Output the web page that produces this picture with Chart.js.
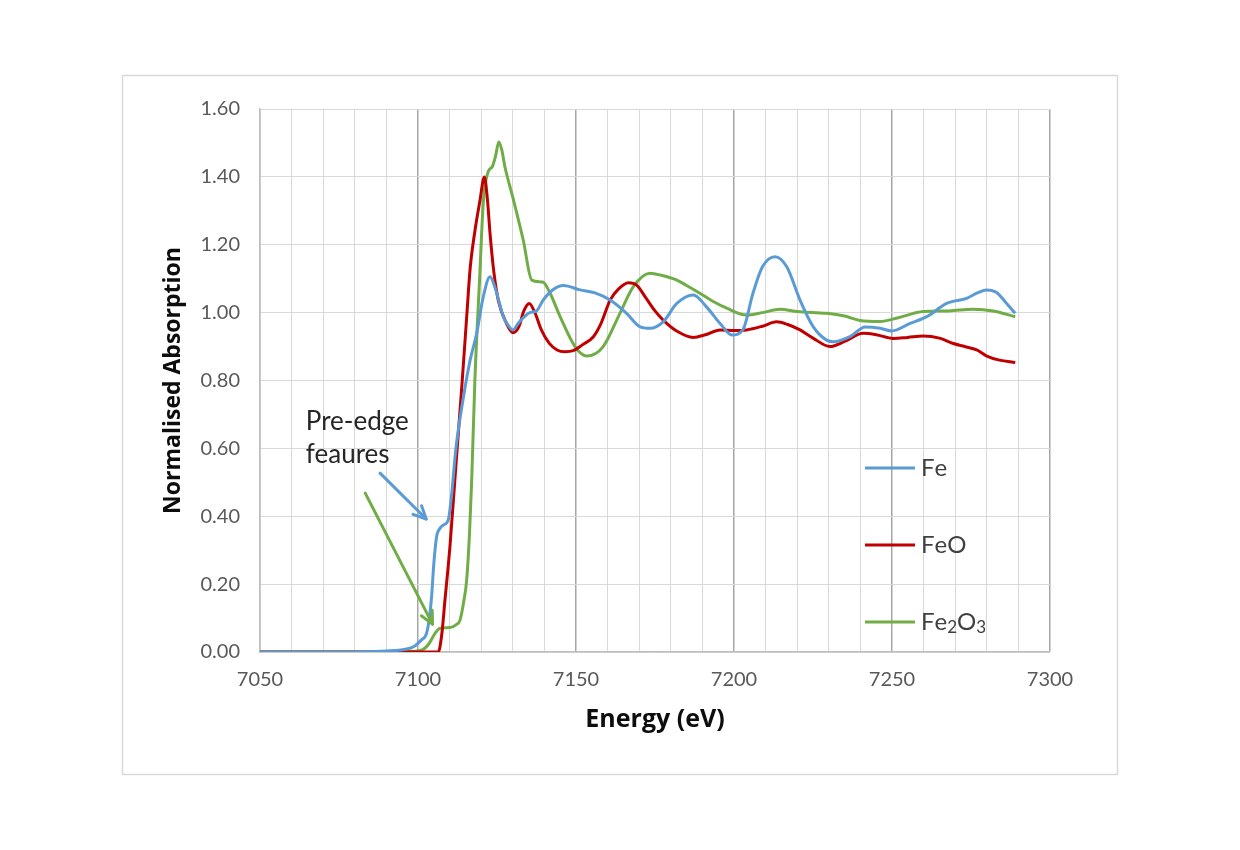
<!DOCTYPE html>
<html>
<head>
<meta charset="utf-8">
<style>
  html, body { margin: 0; padding: 0; background: #ffffff; }
  #wrap { position: relative; width: 1240px; height: 850px; }
</style>
<script src="https://cdn.jsdelivr.net/npm/chart.js@4.4.1/dist/chart.umd.min.js"></script>
</head>
<body>
<div id="wrap"><canvas id="c" width="1240" height="850"></canvas></div>
<script>
// ---------- data ----------
const seriesLabels = ['Fe', 'FeO', 'Fe₂O₃'];
const xTickLabels = [7050, 7100, 7150, 7200, 7250, 7300];
const yTickLabels = ['0.00','0.20','0.40','0.60','0.80','1.00','1.20','1.40','1.60'];

const feEnergy = [7050, 7070, 7090, 7096, 7099, 7101, 7102.7, 7103.6, 7104.3, 7105, 7105.9, 7107, 7108, 7109.6, 7110.6, 7112, 7114.4, 7116.5, 7118.6, 7120.5, 7122.8, 7124.5, 7127, 7128.6, 7130, 7132, 7135.4, 7137.5, 7139.6, 7142.5, 7146, 7151.3, 7156, 7160.8, 7166, 7170.3, 7173.4, 7177.6, 7181.9, 7187.1, 7191.3, 7195.6, 7199.3, 7202.8, 7206, 7209, 7213, 7216.7, 7220.9, 7225.1, 7229.3, 7231.4, 7236.7, 7241.5, 7246.2, 7249.9, 7255.7, 7261, 7267.3, 7273.6, 7277, 7280, 7283, 7286, 7289];
const feValues = [0, 0, 0.003, 0.008, 0.018, 0.035, 0.055, 0.10, 0.163, 0.26, 0.34, 0.365, 0.374, 0.39, 0.46, 0.60, 0.752, 0.86, 0.94, 1.04, 1.106, 1.07, 0.988, 0.962, 0.949, 0.972, 1.0, 1.005, 1.037, 1.066, 1.08, 1.067, 1.058, 1.037, 0.998, 0.958, 0.954, 0.973, 1.027, 1.052, 1.017, 0.968, 0.934, 0.949, 1.057, 1.135, 1.165, 1.135, 1.037, 0.958, 0.919, 0.914, 0.929, 0.958, 0.954, 0.946, 0.968, 0.988, 1.027, 1.042, 1.058, 1.067, 1.06, 1.03, 0.998];

const feoEnergy = [7050, 7075, 7100, 7106.4, 7107.5, 7108.5, 7110.1, 7112, 7114, 7115.5, 7116.5, 7118, 7119.6, 7121, 7122, 7122.8, 7124, 7125.4, 7128, 7130.2, 7132, 7133.5, 7135.2, 7137, 7139, 7141.5, 7144, 7146.5, 7149.1, 7152, 7155.5, 7158, 7160.8, 7163.5, 7166.6, 7169.2, 7172, 7175, 7177.6, 7182, 7187.1, 7191, 7195.6, 7200, 7204, 7209, 7213.5, 7217, 7220.9, 7225, 7230.4, 7235, 7240.9, 7245, 7250.4, 7255, 7259.9, 7265, 7269.4, 7273, 7276.8, 7280, 7284, 7289];
const feoValues = [0, 0, 0, 0, 0.05, 0.15, 0.31, 0.55, 0.80, 1.0, 1.13, 1.24, 1.33, 1.40, 1.33, 1.233, 1.12, 1.037, 0.968, 0.941, 0.96, 1.005, 1.027, 1.0, 0.95, 0.91, 0.89, 0.885, 0.888, 0.905, 0.929, 0.97, 1.037, 1.07, 1.088, 1.081, 1.045, 1.005, 0.978, 0.945, 0.927, 0.935, 0.949, 0.947, 0.949, 0.96, 0.973, 0.965, 0.949, 0.925, 0.90, 0.915, 0.939, 0.935, 0.924, 0.927, 0.931, 0.925, 0.909, 0.90, 0.89, 0.872, 0.86, 0.853];

const fe2o3Energy = [7050, 7080, 7098, 7101.7, 7103.5, 7105.4, 7107, 7110.1, 7112, 7113.3, 7114.5, 7115.4, 7116.3, 7117, 7118, 7119.5, 7120.7, 7122.2, 7123.5, 7124.5, 7125.6, 7126.5, 7127.5, 7130, 7133.3, 7136, 7139.5, 7141.8, 7144.9, 7149.7, 7153.4, 7158.6, 7163.9, 7168.1, 7173.4, 7177, 7181.9, 7185, 7189.2, 7193, 7197.7, 7204, 7209, 7214.6, 7220, 7229.3, 7235, 7239.9, 7246.2, 7252, 7259.9, 7268, 7275.7, 7282, 7289];
const fe2o3Values = [0, 0, 0.002, 0.008, 0.025, 0.055, 0.07, 0.072, 0.08, 0.094, 0.15, 0.212, 0.35, 0.507, 0.80, 1.10, 1.33, 1.415, 1.43, 1.46, 1.503, 1.48, 1.43, 1.34, 1.214, 1.096, 1.09, 1.057, 0.99, 0.90, 0.872, 0.90, 0.998, 1.076, 1.116, 1.11, 1.096, 1.08, 1.057, 1.035, 1.013, 0.993, 1.0, 1.01, 1.003, 0.998, 0.99, 0.977, 0.974, 0.985, 1.003, 1.005, 1.01, 1.005, 0.988];

const noteLines = ['Pre-edge', 'feaures'];

// ---------- styles ----------
const colors = ['#5b9bd5', '#c00000', '#70ad47'];
const FONT = 'Lato, "Liberation Sans", Arial, sans-serif';
const TFONT = '"Open Sans", Lato, Arial, sans-serif';

function pts(xs, ys) { return xs.map((x, i) => ({ x: x, y: ys[i] })); }

const datasets = [
  { label: seriesLabels[0], data: pts(feEnergy, feValues) },
  { label: seriesLabels[1], data: pts(feoEnergy, feoValues) },
  { label: seriesLabels[2], data: pts(fe2o3Energy, fe2o3Values) }
].map((d, i) => Object.assign(d, {
  borderColor: colors[i], backgroundColor: colors[i], borderWidth: 3,
  pointRadius: 0, showLine: true, fill: false, cubicInterpolationMode: 'monotone'
}));

// outer frame
const framePlugin = {
  id: 'frame',
  beforeDraw(chart) {
    const ctx = chart.ctx;
    ctx.save();
    ctx.fillStyle = '#ffffff';
    ctx.fillRect(0, 0, chart.width, chart.height);
    ctx.strokeStyle = '#d9d9d9';
    ctx.lineWidth = 1.5;
    ctx.strokeRect(122.5, 75.5, 995, 699);
    ctx.restore();
  }
};

function arrow(ctx, x1, y1, x2, y2, color) {
  ctx.save();
  ctx.strokeStyle = color;
  ctx.lineWidth = 3;
  ctx.lineCap = 'round';
  ctx.lineJoin = 'round';
  ctx.beginPath(); ctx.moveTo(x1, y1); ctx.lineTo(x2, y2); ctx.stroke();
  const a = Math.atan2(y2 - y1, x2 - x1);
  const L = 14, w = 0.45;
  ctx.beginPath();
  ctx.moveTo(x2 - L * Math.cos(a - w), y2 - L * Math.sin(a - w));
  ctx.lineTo(x2, y2);
  ctx.lineTo(x2 - L * Math.cos(a + w), y2 - L * Math.sin(a + w));
  ctx.stroke();
  ctx.restore();
}

// annotations (positions in data coordinates)
const blueArrow = { from: [7088.0, 0.527], to: [7102.6, 0.392] };
const greenArrow = { from: [7083.3, 0.468], to: [7104.6, 0.082] };
const notePos = [7064.5, 0.654, 0.557];

const notesPlugin = {
  id: 'notes',
  afterDatasetsDraw(chart) {
    const ctx = chart.ctx, xs = chart.scales.x, ys = chart.scales.y;
    ctx.save();
    ctx.fillStyle = '#262626';
    ctx.font = '26px ' + FONT;
    ctx.textBaseline = 'alphabetic';
    ctx.textAlign = 'left';
    ctx.fillText(noteLines[0], xs.getPixelForValue(notePos[0]), ys.getPixelForValue(notePos[1]));
    ctx.fillText(noteLines[1], xs.getPixelForValue(notePos[0]), ys.getPixelForValue(notePos[2]));
    ctx.restore();
    arrow(ctx, xs.getPixelForValue(blueArrow.from[0]), ys.getPixelForValue(blueArrow.from[1]),
      xs.getPixelForValue(blueArrow.to[0]), ys.getPixelForValue(blueArrow.to[1]), colors[0]);
    arrow(ctx, xs.getPixelForValue(greenArrow.from[0]), ys.getPixelForValue(greenArrow.from[1]),
      xs.getPixelForValue(greenArrow.to[0]), ys.getPixelForValue(greenArrow.to[1]), colors[2]);

    // legend
    const subs = { '₂': '2', '₃': '3' };
    const lx = 865, ly0 = 468, gap = 77;
    chart.data.datasets.forEach((ds, i) => {
      const y = ly0 + i * gap;
      ctx.save();
      ctx.strokeStyle = ds.borderColor;
      ctx.lineWidth = 3;
      ctx.beginPath(); ctx.moveTo(lx, y); ctx.lineTo(lx + 50, y); ctx.stroke();
      ctx.fillStyle = '#404040';
      ctx.textBaseline = 'alphabetic';
      let x = lx + 56;
      const base = y + 8;
      for (const ch of ds.label) {
        if (subs[ch]) {
          ctx.font = '17px ' + FONT;
          ctx.fillText(subs[ch], x, base + 3);
          x += ctx.measureText(subs[ch]).width;
        } else {
          ctx.font = '24px ' + FONT;
          ctx.fillText(ch, x, base);
          x += ctx.measureText(ch).width;
        }
      }
      ctx.restore();
    });
  }
};

new Chart(document.getElementById('c'), {
  type: 'scatter',
  data: { datasets: datasets },
  options: {
    responsive: false,
    animation: false,
    layout: { padding: { left: 140, right: 190, top: 109, bottom: 78 } },
    plugins: { legend: { display: false }, tooltip: { enabled: false } },
    scales: {
      x: {
        type: 'linear', min: 7050, max: 7300,
        afterFit(s) { s.height = 120; },
        ticks: {
          stepSize: 10, autoSkip: false, maxRotation: 0, padding: 16,
          color: '#595959', font: { family: FONT, size: 20 },
          callback: (v) => xTickLabels.includes(v) ? String(v) : ''
        },
        grid: {
          drawTicks: false,
          color: (c) => (c.tick && c.tick.value % 50 === 0) ? '#a6a6a6' : '#d9d9d9',
          lineWidth: (c) => (c.tick && c.tick.value % 50 === 0) ? 1.5 : 1
        },
        border: { color: '#bfbfbf', width: 1.5 },
        title: { display: true, text: 'Energy (eV)', color: '#0d0d0d',
          font: { family: TFONT, size: 25, weight: 'bold' }, padding: { top: 0, bottom: 37 } }
      },
      y: {
        min: 0, max: 1.6,
        afterFit(s) { s.width = 120; },
        ticks: {
          stepSize: 0.2, padding: 20,
          color: '#595959', font: { family: FONT, size: 20 },
          callback: (v, i) => yTickLabels[Math.round(v / 0.2)]
        },
        grid: { drawTicks: false, color: '#d9d9d9', lineWidth: 1 },
        border: { color: '#bfbfbf', width: 1.5 },
        title: { display: true, text: 'Normalised Absorption', color: '#0d0d0d',
          font: { family: TFONT, size: 23, weight: 'bold' }, padding: { top: 20, bottom: 0 } }
      }
    }
  },
  plugins: [framePlugin, notesPlugin]
});
</script>
</body>
</html>
